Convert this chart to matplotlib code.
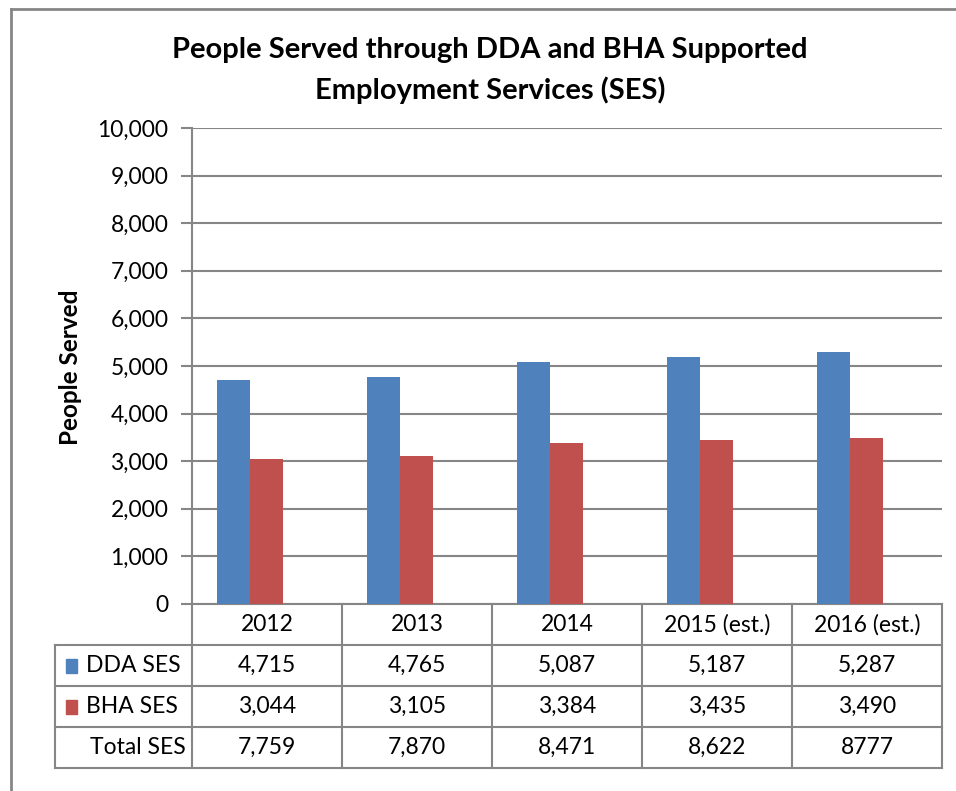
import matplotlib
matplotlib.use("Agg")
import matplotlib.pyplot as plt
from matplotlib.lines import Line2D
from matplotlib.patches import Rectangle
import matplotlib.ticker as mticker

plt.rcParams['font.family'] = ['Lato', 'DejaVu Sans']

# data
years = ["2012", "2013", "2014", "2015 (est.)", "2016 (est.)"]
dda = [4715, 4765, 5087, 5187, 5287]
bha = [3044, 3105, 3384, 3435, 3490]
total_lbl = ["7,759", "7,870", "8,471", "8,622", "8777"]
series_names = ["DDA SES", "BHA SES", "Total SES"]

blue = "#4F81BD"
red = "#C0504D"
grey = "#868686"
fs = 16.5

W, H = 956, 791
fig = plt.figure(figsize=(W / 100, H / 100), dpi=100)

def fx(px):
    return px / W

def fy(py):
    return 1 - py / H

# plot area in pixels
x0, x1, ytop, ybot = 192, 942, 128, 604
ax = fig.add_axes([fx(x0), fy(ybot), fx(x1) - fx(x0), fy(ytop) - fy(ybot)])

n = len(years)
bw = 0.22
pos = list(range(n))
ax.bar([p + 0.167 for p in pos], dda, width=bw, align='edge', color=blue, zorder=3)
ax.bar([p + 0.387 for p in pos], bha, width=bw, align='edge', color=red, zorder=3)

ax.set_xlim(0, n)
ax.set_ylim(0, 10000)
ax.set_yticks(range(0, 10001, 1000))
ax.yaxis.set_major_formatter(mticker.FuncFormatter(lambda v, p: f"{int(v):,}"))
ax.tick_params(axis='y', length=8, width=1.5, color=grey, labelsize=fs, pad=9)
ax.set_xticks([])
ax.grid(axis='y', color=grey, linewidth=1.5, zorder=0)
for s in ['top', 'right']:
    ax.spines[s].set_visible(False)
ax.spines['left'].set_color(grey)
ax.spines['left'].set_linewidth(1.5)
ax.spines['bottom'].set_color(grey)
ax.spines['bottom'].set_linewidth(1.5)

fig.text(fx(70), fy(367), "People Served", rotation=90, ha='center', va='center',
         fontsize=17.5, fontweight='bold')

fig.text(fx(490), fy(50), "People Served through DDA and BHA Supported",
         ha='center', va='center', fontsize=21, fontweight='bold')
fig.text(fx(490), fy(90), "Employment Services (SES)",
         ha='center', va='center', fontsize=21, fontweight='bold')

# data table
row_h = 41
tleft = 55
rows_y = [ybot + i * row_h for i in range(5)]
col_w = (x1 - x0) / n
cols_x = [x0 + i * col_w for i in range(n + 1)]

def hline(xa, xb, y):
    fig.add_artist(Line2D([fx(xa), fx(xb)], [fy(y), fy(y)], color=grey, lw=1.5))

def vline(x, ya, yb):
    fig.add_artist(Line2D([fx(x), fx(x)], [fy(ya), fy(yb)], color=grey, lw=1.5))

for i in range(1, 5):
    hline(tleft, x1, rows_y[i])
vline(tleft, rows_y[1], rows_y[4])
for cx in cols_x:
    vline(cx, ybot, rows_y[4])

for i, yr in enumerate(years):
    cxm = (cols_x[i] + cols_x[i + 1]) / 2
    fig.text(fx(cxm), fy(rows_y[0] + row_h / 2), yr, ha='center', va='center', fontsize=fs)
    fig.text(fx(cxm), fy(rows_y[1] + row_h / 2), f"{dda[i]:,}", ha='center', va='center', fontsize=fs)
    fig.text(fx(cxm), fy(rows_y[2] + row_h / 2), f"{bha[i]:,}", ha='center', va='center', fontsize=fs)
    fig.text(fx(cxm), fy(rows_y[3] + row_h / 2), total_lbl[i], ha='center', va='center', fontsize=fs)

for k, c in enumerate([blue, red]):
    yc = rows_y[k + 1] + row_h / 2
    fig.add_artist(Rectangle((fx(66), fy(yc + 7)), fx(11), 14 / H, color=c))
    fig.text(fx(86), fy(yc), series_names[k], ha='left', va='center', fontsize=fs)
fig.text(fx(186), fy(rows_y[3] + row_h / 2), series_names[2], ha='right', va='center', fontsize=fs)

# outer chart frame
fig.add_artist(Line2D([fx(11), fx(11)], [fy(9), 0], color=grey, lw=2))
fig.add_artist(Line2D([fx(11), 1], [fy(9), fy(9)], color=grey, lw=2))

fig.savefig("out.png", dpi=100)
